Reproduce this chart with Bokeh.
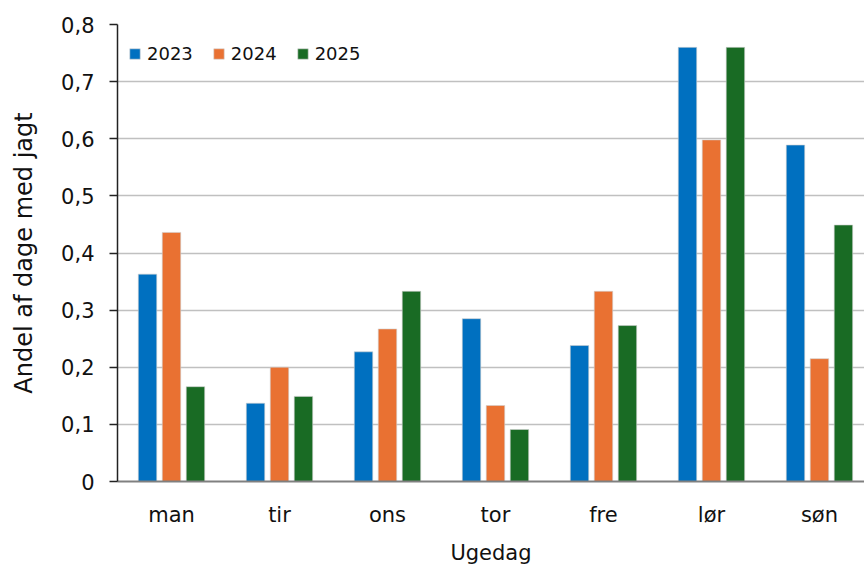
from bokeh.plotting import figure
from bokeh.models import ColumnDataSource, Range1d, FixedTicker, CustomJSTickFormatter, Legend, LegendItem
from bokeh.transform import dodge
from bokeh.embed import file_html
from bokeh.resources import INLINE

days = ["man", "tir", "ons", "tor", "fre", "lør", "søn"]
years = ["2023", "2024", "2025"]
v2023 = [0.363, 0.137, 0.227, 0.285, 0.238, 0.760, 0.589]
v2024 = [0.436, 0.200, 0.267, 0.133, 0.333, 0.598, 0.215]
v2025 = [0.166, 0.149, 0.333, 0.091, 0.273, 0.760, 0.449]
colors = ["#0070C0", "#E97132", "#196B24"]
yticks = [0.0, 0.1, 0.2, 0.3, 0.4, 0.5, 0.6, 0.7, 0.8]

FONT = "DejaVu Sans"

p = figure(width=864, height=567, output_backend="svg", toolbar_location=None,
           x_range=Range1d(0, 6.917), y_range=Range1d(0, 0.8),
           min_border_left=117, min_border_top=24, min_border_bottom=85, min_border_right=0)
p.outline_line_color = None
p.xgrid.grid_line_color = None
p.ygrid.grid_line_color = "#c0c0c0"
p.ygrid.grid_line_width = 1.5

xc = [i + 0.5 for i in range(len(days))]
src = ColumnDataSource(dict(x=xc, v2023=v2023, v2024=v2024, v2025=v2025))
offsets = [-0.222, 0.0, 0.222]
renderers = []
for yr, col, off in zip(years, colors, offsets):
    r = p.vbar(x=dodge("x", off), top="v" + yr, width=0.171, source=src,
               fill_color=col, line_color="#d0d0d0", line_width=0.6)
    renderers.append(r)

legend = Legend(items=[LegendItem(label=y, renderers=[r]) for y, r in zip(years, renderers)],
                orientation="horizontal", location=(11, 417), margin=0, padding=0,
                border_line_color=None, background_fill_alpha=0,
                glyph_width=13, glyph_height=13, label_standoff=6, spacing=19,
                label_text_font=FONT, label_text_font_size="18px", label_text_color="#111111",
                label_height=20)
p.add_layout(legend)

p.yaxis.ticker = FixedTicker(ticks=yticks)
p.yaxis.formatter = CustomJSTickFormatter(code="return tick < 1e-9 ? '0' : tick.toFixed(1).replace('.', ',');")
p.yaxis.axis_line_color = "#222222"
p.yaxis.axis_line_width = 1.5
p.yaxis.major_tick_line_color = "#222222"
p.yaxis.major_tick_line_width = 1.5
p.yaxis.major_tick_out = 8
p.yaxis.major_tick_in = 0
p.yaxis.minor_tick_line_color = None
p.yaxis.minor_tick_out = 0
p.yaxis.major_label_text_font = FONT
p.yaxis.major_label_text_font_size = "21px"
p.yaxis.major_label_text_color = "#111111"
p.yaxis.major_label_standoff = 15
p.yaxis.axis_label = "Andel af dage med jagt"
p.yaxis.axis_label_text_font = FONT
p.yaxis.axis_label_text_font_size = "24px"
p.yaxis.axis_label_text_font_style = "normal"
p.yaxis.axis_label_text_color = "#111111"
p.yaxis.axis_label_standoff = 20

p.xaxis.ticker = FixedTicker(ticks=xc)
p.xaxis.formatter = CustomJSTickFormatter(args=dict(labels=days),
                                          code="return labels[Math.round(tick - 0.5)];")
p.xaxis.axis_line_color = "#808080"
p.xaxis.axis_line_width = 2
p.xaxis.major_tick_line_color = None
p.xaxis.major_tick_out = 0
p.xaxis.major_tick_in = 0
p.xaxis.minor_tick_line_color = None
p.xaxis.minor_tick_out = 0
p.xaxis.major_label_text_font = FONT
p.xaxis.major_label_text_font_size = "21px"
p.xaxis.major_label_text_color = "#111111"
p.xaxis.major_label_standoff = 21
p.xaxis.axis_label = "Ugedag"
p.xaxis.axis_label_text_font = FONT
p.xaxis.axis_label_text_font_size = "21px"
p.xaxis.axis_label_text_font_style = "normal"
p.xaxis.axis_label_text_color = "#111111"
p.xaxis.axis_label_standoff = 11

open("out.html", "w").write(file_html(p, INLINE))
